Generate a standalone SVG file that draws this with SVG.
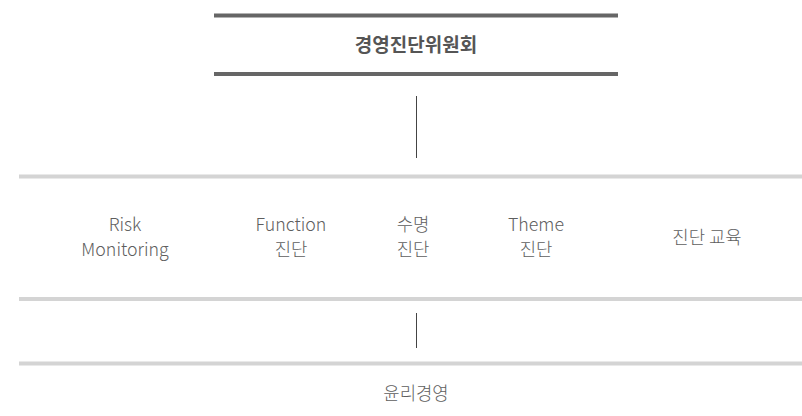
<svg xmlns="http://www.w3.org/2000/svg" width="802" height="416" viewBox="0 0 802 416">
<style>
.t{font-family:"Noto Sans CJK KR","Noto Sans",sans-serif;font-size:17.8px;fill:#5e5e5e;text-anchor:middle;font-weight:300}
.b{font-family:"Noto Sans CJK KR","Noto Sans",sans-serif;font-size:19px;fill:#555;text-anchor:middle;font-weight:700}
.dark{stroke:#666;stroke-width:4}
.light{stroke:#d4d4d4;stroke-width:4}
.v{stroke:#444;stroke-width:1}
</style>
<rect width="802" height="416" fill="#fff"/>
<g id="committee">
<line class="dark" x1="214" y1="15.5" x2="618" y2="15.5"/>
<line class="dark" x1="214" y1="74" x2="618" y2="74"/>
<text class="b" x="416" y="52">경영진단위원회</text>
</g>
<g id="diagnosis">
<line class="light" x1="19" y1="176.5" x2="802" y2="176.5"/>
<line class="light" x1="19" y1="299" x2="802" y2="299"/>
<text class="t" x="125" y="231">Risk</text>
<text class="t" x="125" y="256">Monitoring</text>
<text class="t" x="291" y="231">Function</text>
<text class="t" x="291" y="256">진단</text>
<text class="t" x="413" y="231">수명</text>
<text class="t" x="413" y="256">진단</text>
<text class="t" x="536" y="231">Theme</text>
<text class="t" x="536" y="256">진단</text>
<text class="t" x="707" y="244">진단 교육</text>
</g>
<g id="ethics">
<line class="light" x1="19" y1="363.5" x2="802" y2="363.5"/>
<text class="t" x="416" y="400">윤리경영</text>
</g>
<g id="connectors">
<line class="v" x1="416.5" y1="96" x2="416.5" y2="158"/>
<line class="v" x1="416.5" y1="313" x2="416.5" y2="348"/>
</g>
</svg>
